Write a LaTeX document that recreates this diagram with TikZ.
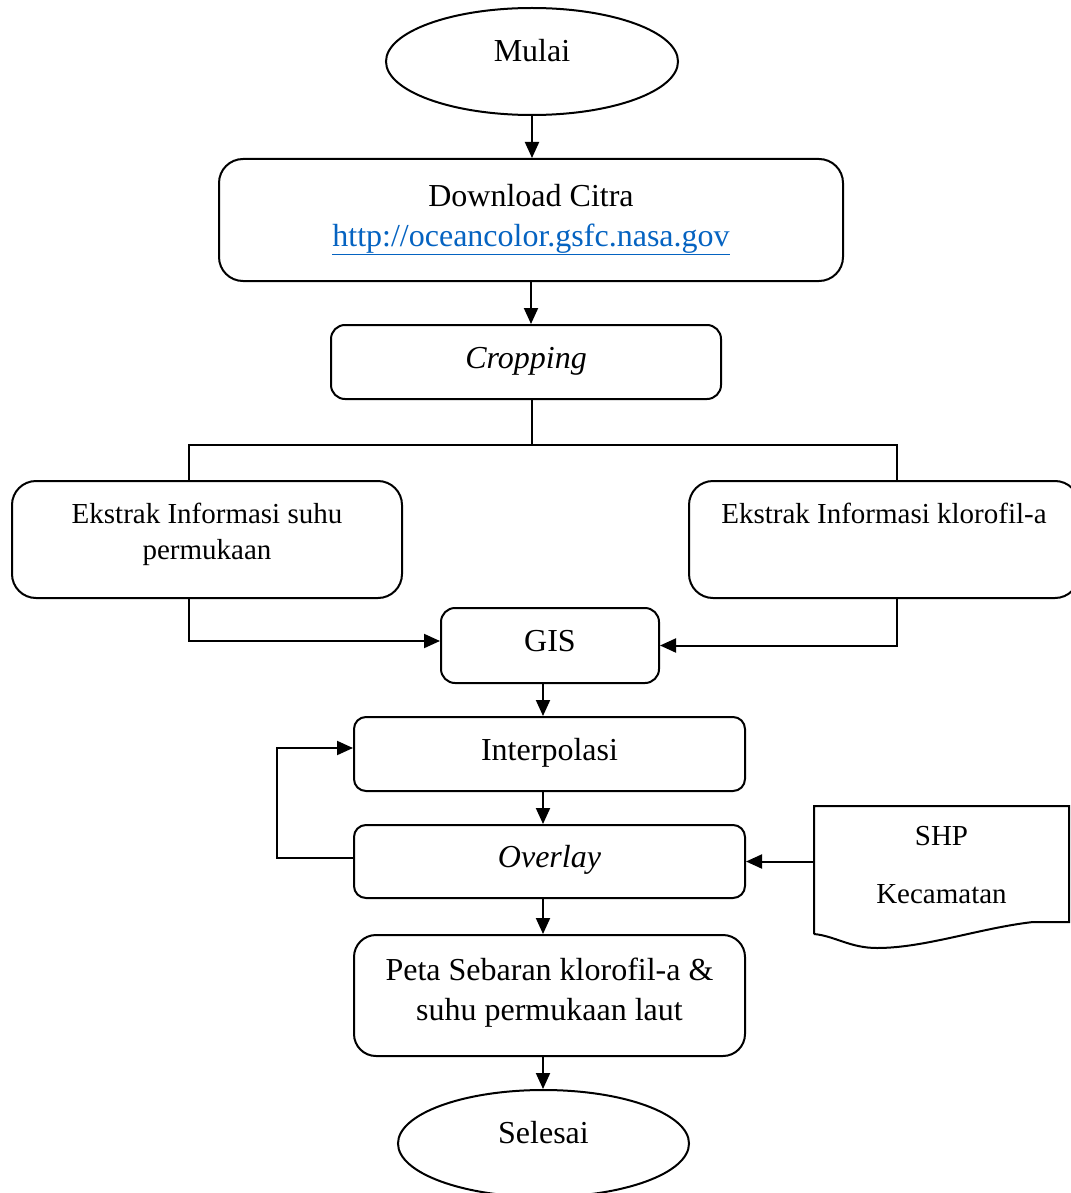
\documentclass[tikz,border=0pt]{standalone}
\usepackage{fontspec}
\setmainfont{Liberation Serif}
\usepackage{tikz}
\usetikzlibrary{arrows.meta,shapes.geometric,positioning}
\definecolor{linkblue}{HTML}{0563C1}

\begin{document}
\begin{tikzpicture}[x=1pt,y=-1pt,->,>={Triangle[length=16pt,width=14pt]},line width=2pt,
	proc/.style={draw,rounded corners=14pt,align=center,inner sep=2pt,text height=22pt,text depth=10pt,font=\fontsize{32}{40}\selectfont},
	term/.style={draw,ellipse,inner sep=2pt,text height=22pt,text depth=22pt,font=\fontsize{32}{40}\selectfont},
	small/.style={font=\fontsize{29}{36}\selectfont}]
	\useasboundingbox (0,0) rectangle (1070,1193);

	\node[term,minimum width=292pt,minimum height=107pt]	(mulai)		at (532,61.5)		{Mulai};
	\node[proc,rounded corners=24pt,minimum width=624pt,minimum height=122pt,text height=62pt]	(dl)	at (531,220)	{Download Citra\\\textcolor{linkblue}{\underline{http://oceancolor.gsfc.nasa.gov}}};
	\node[proc,minimum width=390pt,minimum height=74pt]		(crop)		at (526,362)		{\textit{Cropping}};
	\node[proc,small,rounded corners=24pt,minimum width=390pt,minimum height=117pt,text height=49pt]	(suhu)	at (207,539.5)	{Ekstrak Informasi suhu\\permukaan};
	\node[proc,small,rounded corners=24pt,minimum width=390pt,minimum height=117pt,text depth=55pt]	(klor)	at (884,539.5)	{Ekstrak Informasi klorofil-a};
	\node[proc,minimum width=218pt,minimum height=75pt]		(gis)		at (550,645.5)		{GIS};
	\node[proc,rounded corners=12pt,minimum width=391pt,minimum height=74pt]	(interp)	at (549.5,754)		{Interpolasi};
	\node[proc,rounded corners=12pt,minimum width=391pt,minimum height=73pt]	(ovl)		at (549.5,861.5)	{\textit{Overlay}};
	\node[proc,rounded corners=22pt,minimum width=391pt,minimum height=121pt,text height=59pt]	(peta)	at (549.5,995.5)	{Peta Sebaran klorofil-a \&\\suhu permukaan laut};
	\node[term,minimum width=291pt,minimum height=107pt]	(selesai)	at (543.5,1143.5)	{Selesai};
	\node[small,align=center,inner sep=2pt,text height=76pt,text depth=10pt,minimum width=253pt,minimum height=126pt]	(shp)	at (941.5,870)	{SHP\\[22pt]Kecamatan};

	% document shape of SHP
	\draw[-] (shp.south west) -- (shp.north west) -- (shp.north east) -- ([yshift=12pt]shp.south east) -- (1033,922)
		.. controls (980,928) and (925,948) .. (877,948) .. controls (850,948) and (835,936) .. (shp.south west);

	\coordinate (split) at (532,445);
	\coordinate (col) at (543,0);

	\draw (mulai.south) -- (mulai.south |- dl.north);
	\draw (dl.south) -- (dl.south |- crop.north);
	\draw[-] (crop.south -| split) -- (split);
	\draw[-] ([xshift=-18pt]suhu.north) |- (split) -| ([xshift=13pt]klor.north);
	\draw ([xshift=-18pt]suhu.south) |- ([yshift=4.5pt]gis.west);
	\draw ([xshift=13pt]klor.south) |- (gis.east);
	\draw (gis.south -| col) -- (interp.north -| col);
	\draw (interp.south -| col) -- (ovl.north -| col);
	\draw ([yshift=3.5pt]ovl.west) -- ++(-76,0) |- ([yshift=6pt]interp.west);
	\draw (shp.west |- ovl.east) -- (ovl.east);
	\draw (ovl.south -| col) -- (peta.north -| col);
	\draw (peta.south -| col) -- (selesai.north -| col);
\end{tikzpicture}
\end{document}
